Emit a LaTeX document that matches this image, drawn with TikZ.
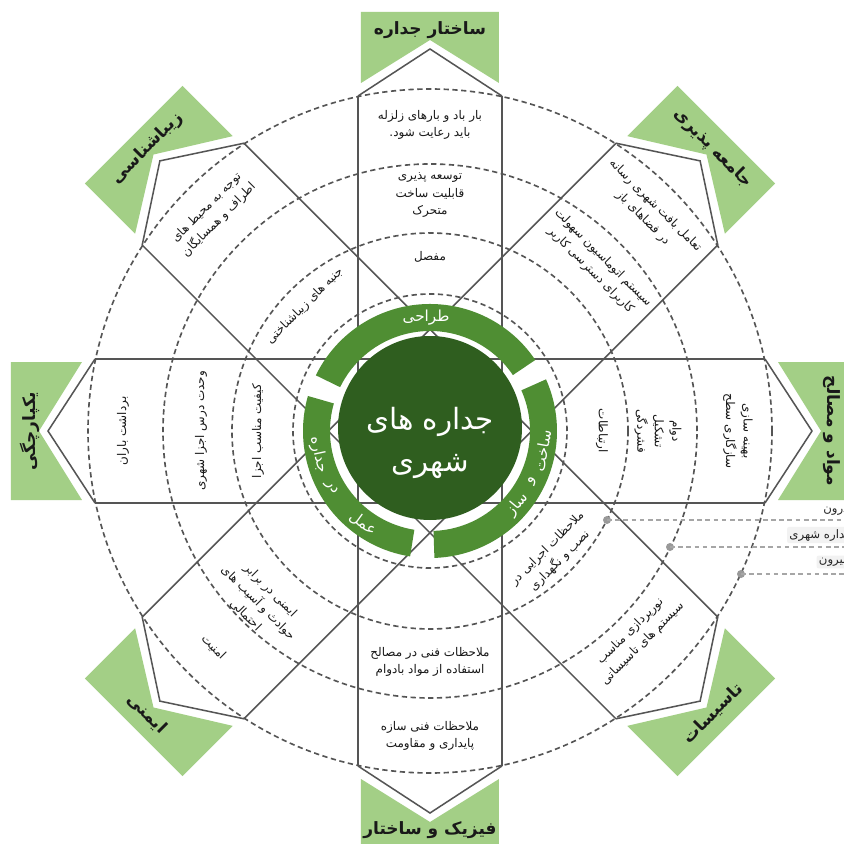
\documentclass[tikz,border=0pt]{standalone}
\usepackage{fontspec}
\newfontfamily\arabicfont[Script=Arabic]{DejaVu Sans}
\TeXXeTstate=1
\newcommand{\pf}[1]{\beginR #1\endR}
\definecolor{lightgreen}{HTML}{A3CF86}
\definecolor{ringgreen}{HTML}{4F8E33}
\definecolor{darkgreen}{HTML}{2F5E1F}
\definecolor{linegray}{HTML}{555555}
\tikzset{
  bandline/.style={draw=linegray, line width=1.3pt},
  dashcirc/.style={draw=linegray, line width=1.4pt, dash pattern=on 4.5pt off 3pt},
  txt/.style={font=\arabicfont\fontsize{10.2}{15}\selectfont, align=center, text=black!90, inner sep=0pt},
  lbl/.style={font=\arabicfont\bfseries\fontsize{14.5}{17}\selectfont, text=black!90, inner sep=0pt},
  ringtxt/.style={font=\arabicfont\fontsize{13}{15}\selectfont, text=white, inner sep=0pt},
  legline/.style={draw=black!35, line width=1pt, dash pattern=on 4pt off 3pt},
  legdot/.style={fill=black!40},
  legtxt/.style={font=\arabicfont\fontsize{10}{12}\selectfont, text=black!85, fill=black!5, rounded corners=2pt, inner sep=2pt, anchor=east}
}
\begin{document}
\begin{tikzpicture}[x=0.3mm,y=0.3mm]
\clip (-430,-413) rectangle (414,431);
\fill[white] (-430,-413) rectangle (414,431);
% strips
\foreach \a in {0,45,90,135} {
  \draw[bandline, rotate=\a] (-335,72) -- (335,72) (-335,-72) -- (335,-72);
}
% house ends and green labels
\foreach \a in {0,45,...,315} {
  \draw[bandline, rotate=\a] (335,72) -- (382,0) -- (335,-72);
  \fill[lightgreen, rotate=\a] (348,69) -- (419,69) -- (419,-69) -- (348,-69) -- (391,0) -- cycle;
}
% dashed circles
\foreach \r in {342,267,198,137} {
  \draw[dashcirc] (0,0) circle[radius=\r];
}
% ring segments
\fill[ringgreen] (34:127) arc[start angle=34, end angle=154, radius=127] -- (154:100) arc[start angle=154, end angle=34, radius=100] -- cycle;
\fill[ringgreen] (164:127) arc[start angle=164, end angle=261, radius=127] -- (261:100) arc[start angle=261, end angle=164, radius=100] -- cycle;
\fill[ringgreen] (-88:127) arc[start angle=-88, end angle=24, radius=127] -- (24:100) arc[start angle=24, end angle=-88, radius=100] -- cycle;
\fill[darkgreen] (0,3) circle[radius=92];
% ring texts
\node[ringtxt] (r1) at (92:113) {\pf{طراحی}};
\node[ringtxt, rotate=80] (r2a) at (-10:114) {\pf{ساخت}};
\node[ringtxt, rotate=64] (r2b) at (-26:114) {\pf{و}};
\node[ringtxt, rotate=50] (r2c) at (-40:114) {\pf{ساز}};
\node[ringtxt, rotate=-78] (r3a) at (192:114) {\pf{جداره}};
\node[ringtxt, rotate=-60] (r3b) at (210:114) {\pf{در}};
\node[ringtxt, rotate=-36] (r3c) at (234:114) {\pf{عمل}};
\node[font=\arabicfont\fontsize{25}{36}\selectfont, text=white, align=center] (ctr) at (0,-12) {\pf{جداره های}\\\pf{شهری}};
% green labels
\node[lbl] (l1) at (90:401) {\pf{ساختار جداره}};
\node[lbl, rotate=-45] (l2) at (45:400) {\pf{جامعه پذیری}};
\node[lbl, rotate=-90] (l3) at (0:402) {\pf{مواد و مصالح}};
\node[lbl, rotate=45] (l4) at (-45:400) {\pf{تاسیسات}};
\node[lbl] (l5) at (-90:399) {\pf{فیزیک و ساختار}};
\node[lbl, rotate=-45] (l6) at (225:400) {\pf{ایمنی}};
\node[lbl, rotate=90] (l7) at (180:400) {\pf{یکپارچگی}};
\node[lbl, rotate=45] (l8) at (135:400) {\pf{زیباشناسی}};
% top band
\node[txt] (t1) at (90:306) {\pf{بار باد و بارهای زلزله}\\\pf{باید رعایت شود.}};
\node[txt] (t2) at (90:236) {\pf{توسعه پذیری}\\\pf{قابلیت ساخت}\\\pf{متحرک}};
\node[txt] (t3) at (90:174) {\pf{مفصل}};
% top-right band
\node[txt, rotate=-45] (tr1) at (45:310) {\pf{تعامل بافت شهری رسانه}\\\pf{در فضاهای باز}};
\node[txt, rotate=-45] (tr2) at (45:236) {\pf{سیستم اتوماسیون سهولت}\\\pf{کاربرای دسترسی کاربر}};
% top-left band
\node[txt, rotate=45] (tl1) at (135:307) {\pf{توجه به محیط های}\\\pf{اطراف و همسایگان}};
\node[txt, rotate=45] (tl2) at (135:177) {\pf{جنبه های زیباشناختی}};
% left band
\node[txt, rotate=90] (le1) at (180:307) {\pf{برداشت باران}};
\node[txt, rotate=90] (le2) at (180:229) {\pf{وحدت درس اجزا شهری}};
\node[txt, rotate=90] (le3) at (180:172) {\pf{کیفیت مناسب اجزا}};
% right band
\node[txt, rotate=-90] (ri1) at (0:308) {\pf{بهینه سازی}\\\pf{سازگاری سطح}};
\node[txt, rotate=-90] (ri2) at (0:228) {\pf{دوام}\\\pf{تشکیل}\\\pf{فشردگی}};
\node[txt, rotate=-90] (ri3) at (0:172) {\pf{ارتباطات}};
% bottom-right band
\node[txt, rotate=45] (br1) at (-45:175) {\pf{ملاحظات اجرایی در}\\\pf{نصب و نگهداری}};
\node[txt, rotate=45] (br2) at (-45:292) {\pf{نورپردازی مناسب}\\\pf{سیستم های تاسیساتی}};
% bottom band
\node[txt] (b1) at (-90:231) {\pf{ملاحظات فنی در مصالح}\\\pf{استفاده از مواد بادوام}};
\node[txt] (b2) at (-90:305) {\pf{ملاحظات فنی سازه}\\\pf{پایداری و مقاومت}};
% bottom-left band
\node[txt, rotate=-45] (bl1) at (225:243) {\pf{ایمنی در برابر}\\\pf{حوادث و آسیب های}\\\pf{احتمالی}};
\node[txt, rotate=-45] (bl2) at (225:306) {\pf{امنیت}};
% legend
\fill[legdot] (177,-89) circle[radius=4] coordinate (d1);
\fill[legdot] (240,-116) circle[radius=4] coordinate (d2);
\fill[legdot] (311,-143) circle[radius=4] coordinate (d3);
\coordinate (e1) at (414,-89);
\coordinate (e2) at (414,-116);
\coordinate (e3) at (414,-143);
\draw[legline] (d1) -- (e1);
\draw[legline] (d2) -- (e2);
\draw[legline] (d3) -- (e3);
\node[legtxt, fill=none] (g1) at (421,-80) {\pf{درون}};
\node[legtxt] (g2) at (425,-104) {\pf{جداره شهری}};
\node[legtxt] (g3) at (419,-131) {\pf{بیرون}};
\end{tikzpicture}
\end{document}
